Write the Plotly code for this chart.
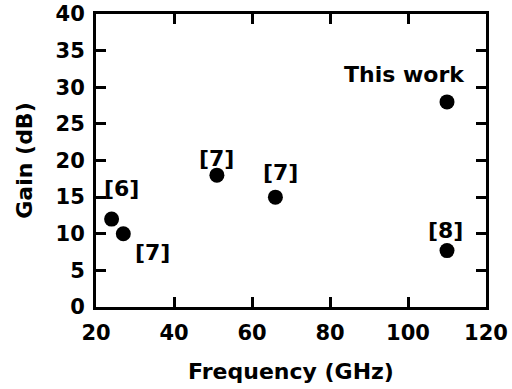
import plotly.graph_objects as go

freq = [24, 27, 51, 66, 110, 110]
gain = [12, 10, 18, 15, 28, 7.7]
labels = ["[6]", "[7]", "[7]", "[7]", "This work", "[8]"]
label_x = [26.6, 34.6, 51, 67.2, 99, 109.7]
label_y = [16.2, 7.4, 20.3, 18.3, 31.7, 10.5]

FONT = "DejaVu Sans"

fig = go.Figure()
fig.add_trace(go.Scatter(
    x=freq, y=gain, mode="markers",
    marker=dict(color="black", size=15, line=dict(width=0)),
    showlegend=False, hoverinfo="skip"))

for t, lx, ly in zip(labels, label_x, label_y):
    fig.add_annotation(x=lx, y=ly, text=t, showarrow=False,
                       xanchor="center", yanchor="middle",
                       font=dict(family=FONT, size=22, color="black", weight="bold"))

axis_common = dict(
    showline=True, linecolor="black", linewidth=3, mirror="ticks",
    ticks="inside", ticklen=10, tickwidth=3, tickcolor="black",
    showgrid=False, zeroline=False, automargin=False,
    tickfont=dict(family=FONT, size=21, color="black", weight="bold"),
)

fig.update_xaxes(range=[20, 120], tickvals=[20, 40, 60, 80, 100, 120],
                 title=dict(text="Frequency (GHz)", standoff=20,
                            font=dict(family=FONT, size=22, color="black", weight="bold")),
                 ticklabelstandoff=5,
                 **axis_common)
fig.update_yaxes(range=[0, 40], tickvals=[0, 5, 10, 15, 20, 25, 30, 35, 40],
                 title=dict(text="Gain (dB)", standoff=17,
                            font=dict(family=FONT, size=22, color="black", weight="bold")),
                 ticklabelstandoff=4,
                 **axis_common)

fig.update_layout(
    width=512, height=389,
    margin=dict(l=96, r=26, t=14, b=82),
    paper_bgcolor="white", plot_bgcolor="white",
)

fig.write_html("out.html")
